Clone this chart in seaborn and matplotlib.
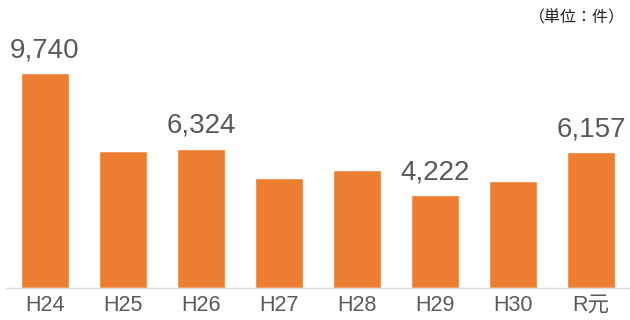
import numpy as np
import pandas as pd
import matplotlib.pyplot as plt
import seaborn as sns

# data
years = ['H24', 'H25', 'H26', 'H27', 'H28', 'H29', 'H30', 'R元']
counts = [9740, 6215, 6324, 4990, 5354, 4222, 4870, 6157]
shown = ['H24', 'H26', 'H29', 'R元']          # bars that carry a value label

df = pd.DataFrame({'year': years, 'count': counts})

sns.set_style('white')
plt.rcParams['font.family'] = ['Liberation Sans', 'Noto Sans CJK JP', 'DejaVu Sans']

fig = plt.figure(figsize=(6.3, 3.2), dpi=100)
ax = fig.add_axes([6/630, 0.1, 624/630, 0.8266])

sns.barplot(x='year', y='count', data=df, color='#ED7D31', saturation=1,
            width=0.61, ax=ax)

for i, (yr, v) in enumerate(zip(years, counts)):
    if yr in shown:
        ax.text(i, v + 450, f'{v:,}', ha='center', va='bottom',
                fontsize=20, color='#595959')

ax.set_xlim(-0.5, 7.5)
ax.set_ylim(0, 12000)
ax.set_xlabel('')
ax.set_ylabel('')
ax.set_yticks([])
for s in ['top', 'right', 'left']:
    ax.spines[s].set_visible(False)
ax.spines['bottom'].set_color('#d9d9d9')
ax.spines['bottom'].set_linewidth(1)
ax.tick_params(axis='x', length=0, pad=5, labelsize=15.5, labelcolor='#595959')

fig.text(0.992, 0.944, '（単位：件）', ha='right', va='center', fontsize=11.5,
         color='#222222', family=['Noto Sans CJK JP', 'DejaVu Sans'])

plt.savefig('out.png', dpi=100)
